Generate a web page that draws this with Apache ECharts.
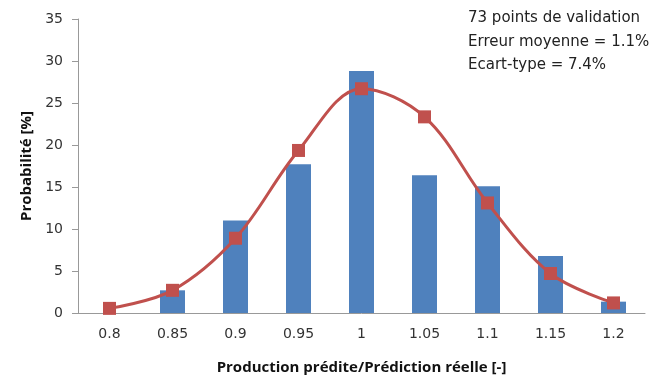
<!DOCTYPE html>
<html><head><meta charset="utf-8">
<script src="https://cdn.jsdelivr.net/npm/echarts@6/dist/echarts.min.js"></script>
<style>html,body{margin:0;padding:0;background:#fff}#c{width:652px;height:380px}</style>
</head><body><div id="c"></div>
<script>
const categories = ['0.8','0.85','0.9','0.95','1','1.05','1.1','1.15','1.2'];
const barValues = [0, 2.7, 11.0, 17.7, 28.8, 16.4, 15.1, 6.8, 1.35];
const lineValues = [0.55, 2.7, 8.9, 19.35, 26.7, 23.35, 13.1, 4.7, 1.2];
const annotations = ['73 points de validation', 'Erreur moyenne = 1.1%', 'Ecart-type = 7.4%'];
const yTicks = { min: 0, max: 35, interval: 5 };

const chart = echarts.init(document.getElementById('c'));
chart.setOption({
  animation: false,
  backgroundColor: '#fff',
  grid: { left: 78, right: 7, top: 19, bottom: 63 },
  graphic: annotations.map((t, i) => ({
    type: 'text', left: 468, top: 11 + i * 23.5,
    style: { text: t, font: '15px "DejaVu Sans"', fill: '#222' }
  })),
  xAxis: {
    type: 'category', data: categories, boundaryGap: true,
    name: 'Production prédite/Prédiction réelle [-]',
    nameLocation: 'middle', nameGap: 47,
    nameTextStyle: { fontFamily: 'Open Sans', fontWeight: 'bold', fontSize: 15, color: '#111' },
    axisLine: { lineStyle: { color: '#999', width: 1 } },
    axisTick: { show: false },
    axisLabel: { fontFamily: 'DejaVu Sans', fontSize: 14, color: '#333', margin: 14 }
  },
  yAxis: {
    type: 'value', min: yTicks.min, max: yTicks.max, interval: yTicks.interval,
    name: 'Probabilité [%]', nameLocation: 'middle', nameGap: 44,
    nameTextStyle: { fontFamily: 'Open Sans', fontWeight: 'bold', fontSize: 15, color: '#111' },
    splitLine: { show: false },
    axisLine: { show: true, lineStyle: { color: '#999', width: 1 } },
    axisTick: { show: true, length: 6, lineStyle: { color: '#999' } },
    axisLabel: { fontFamily: 'DejaVu Sans', fontSize: 14, color: '#333', margin: 15 }
  },
  series: [
    { type: 'bar', data: barValues, barWidth: 25, itemStyle: { color: '#4F81BD' } },
    { type: 'line', data: lineValues, smooth: 0.35, symbol: 'rect', symbolSize: 13,
      lineStyle: { color: '#C0504D', width: 3 }, itemStyle: { color: '#C0504D' }, z: 3 }
  ]
});
</script></body></html>
